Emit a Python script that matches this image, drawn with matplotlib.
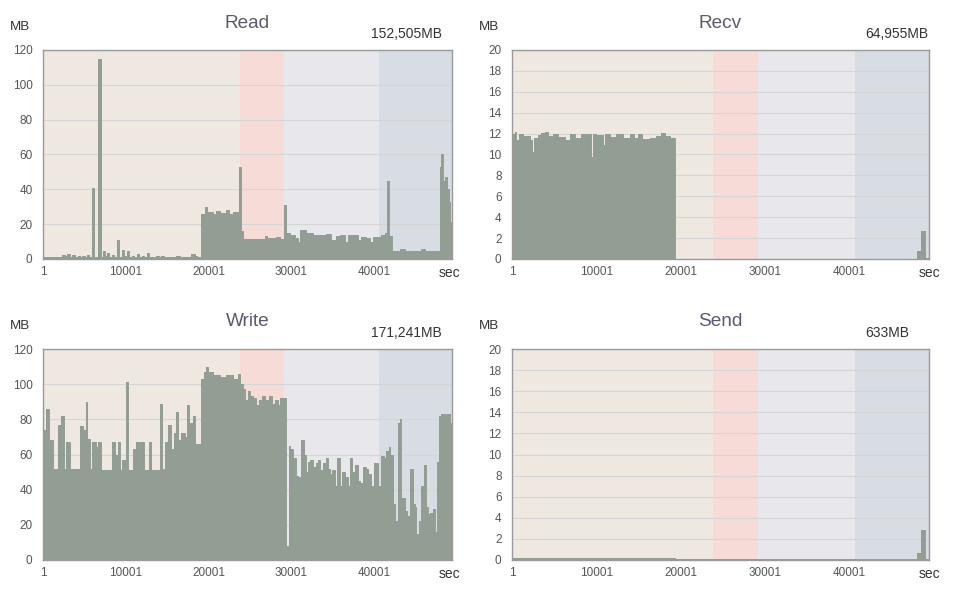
import matplotlib
matplotlib.use("Agg")
import matplotlib.pyplot as plt

plt.rcParams['font.family'] = ['Liberation Sans', 'DejaVu Sans']

# ---------------- data ----------------
XMAX = 49400
x_ticks = [1, 10001, 20001, 30001, 40001]
x_tick_labels = ['1', '10001', '20001', '30001', '40001']
phase_edges = [1, 23800, 29100, 40600, XMAX]
phase_colors = ['#eee8e1', '#f6dbd6', '#e7e7ec', '#d8dde4']

read_t = [0, 2336, 2618, 2940, 3222, 3544, 3826, 4228, 4430, 4752, 5034, 5316, 5557,
          5880, 6141, 6685, 6966, 7249, 7490, 7732, 8014, 8336, 8618, 8920, 9161,
          9544, 9786, 10108, 10349, 10712, 10994, 11356, 11598, 12000, 12242, 12564,
          12806, 13692, 14014, 14296, 14578, 16108, 16511, 17920, 18323, 18645,
          19048, 19571, 19853, 20538, 20940, 21343, 22149, 22471, 22954, 23598,
          23720, 23960, 24202, 26860, 27061, 28189, 28592, 29135, 29377, 29800,
          30404, 30807, 31008, 31813, 32619, 33424, 34230, 34834, 35438, 35840,
          36444, 36847, 37451, 38055, 38458, 39062, 39465, 39867, 40874, 41277,
          41520, 41760, 42122, 43089, 43693, 45706, 46109, 47921, 48082, 48324,
          48525, 48807, 49008, 49209]
read_v = [1.0, 2.5, 1.5, 3.0, 1.0, 2.5, 1.0, 1.8, 1.0, 2.0, 1.0, 2.5, 1.0,
          41, 1.0, 115, 1.0, 4.5, 2.0, 3.5, 1.0, 2.5, 1.0, 11, 1.0,
          5, 1.5, 4.5, 1.0, 2.0, 1.0, 3.0, 1.0, 2.0, 1.0, 3.5,
          1.0, 2.0, 1.0, 1.5, 1.0, 2.0, 1.0, 3.0, 1.5, 1.0,
          26, 30, 27, 26, 27.5, 26.5, 28, 26, 27, 17,
          53, 16, 11.5, 13, 12, 12.5, 11.5, 31, 15, 14,
          12, 10, 16.5, 15, 14, 13.5, 14.5, 11, 13, 13.5,
          10, 13.5, 14, 11, 12.5, 12, 10, 12.5, 14, 15,
          45, 13, 4.5, 5.5, 4.5, 5.5, 4.5, 53, 60, 45,
          47, 40, 33, 21]

write_t = [0, 322, 685, 886, 1208, 1812, 2215, 2497, 2819, 3302, 4430, 4832, 5155,
           5356, 5718, 5960, 6363, 6645, 6967, 8376, 8739, 9061, 9343, 9584, 9866,
           10000, 10250, 10873, 11276, 11678, 11880, 12202, 12766, 13088, 14175,
           14376, 14699, 15101, 15504, 15786, 16108, 16350, 16712, 17115, 17397,
           17638, 17799, 18122, 18323, 18524, 19047, 19410, 19732, 19934, 20538,
           21343, 22149, 22954, 23558, 23840, 24162, 24444, 24766, 25048, 25370,
           25773, 26095, 26417, 26780, 26981, 27303, 27706, 27988, 28390, 28672,
           29400, 29680, 29880, 30203, 30525, 30766, 31209, 31491, 31733, 32015,
           32297, 32619, 32941, 33223, 33505, 33827, 34149, 34471, 34713, 34954,
           35277, 35518, 35840, 36162, 36444, 36847, 37129, 37371, 37693, 38015,
           38257, 38659, 38981, 39263, 39666, 39988, 40471, 40874, 41156, 41478,
           41760, 41961, 42284, 42565, 42888, 43128, 43290, 43693, 43975, 44378,
           44700, 44901, 45102, 45424, 45706, 45988, 46230, 46511, 46794, 47116,
           47317, 47599, 47840, 48122, 49129]
write_v = [74, 86, 63, 68, 52, 77, 82, 52, 67, 52, 76, 74, 90,
           69, 52, 67, 64, 67, 51, 67, 60, 67, 51, 57, 51,
           101, 51, 63, 67, 51, 67, 51, 67, 51, 89,
           52, 67, 77, 63, 72, 84, 68, 72, 70, 88,
           75, 78, 82, 64, 66, 103, 107, 110, 107, 105,
           104, 105, 103, 106, 100, 97, 91, 96, 93, 92,
           88, 91, 93, 88, 91, 93, 89, 91, 88, 92,
           8, 65, 63, 58, 48, 47, 68, 60, 50, 56,
           57, 53, 55, 57, 51, 55, 58, 52, 49, 51,
           42, 58, 42, 50, 47, 42, 58, 50, 54, 45,
           44, 53, 52, 49, 42, 55, 42, 59, 58, 62,
           64, 60, 32, 22, 78, 80, 35, 28, 25, 52,
           32, 30, 15, 22, 42, 54, 30, 26, 27, 29,
           16, 56, 82, 83, 78]

recv_t = [0, 316, 513, 829, 1303, 2092, 2408, 2566, 3079, 3474, 3869, 4264, 4856,
          5448, 6238, 6830, 7422, 8212, 9396, 9554, 9988, 10778, 10975, 11568,
          12357, 13147, 13936, 14450, 14608, 14923, 15436, 16305, 17095, 17687,
          18082, 18674, 19345, 47968, 48481, 48955]
recv_v = [12, 12.2, 11.4, 12, 11.8, 11.4, 10.2, 11.6, 11.9, 12.1, 12.2, 11.8, 12,
          11.7, 11.4, 12, 11.6, 12, 9.8, 12, 11.9, 10.9, 12, 11.7,
          12, 11.6, 12, 10.5, 11.6, 12, 11.5, 11.6, 11.8, 12.1,
          11.8, 11.6, 0.03, 0.8, 2.7, 0.05]

send_t = [0, 19345, 47968, 48481, 48955]
send_v = [0.15, 0.05, 0.7, 2.8, 0.05]

panels = [
    # title, total, times, values, ymax, ystep, pixel box (x0, y0, x1, y1)
    ('Read', '152,505MB', read_t, read_v, 120, 20, (43, 50, 452, 259)),
    ('Recv', '64,955MB', recv_t, recv_v, 20, 2, (512, 50, 929, 259)),
    ('Write', '171,241MB', write_t, write_v, 120, 20, (43, 349, 452, 560)),
    ('Send', '633MB', send_t, send_v, 20, 2, (512, 349, 929, 560)),
]

# ---------------- drawing ----------------
W, H = 961, 591
fig = plt.figure(figsize=(W / 100, H / 100), dpi=100)
fig.patch.set_facecolor('white')

FILL = '#929e93'
TITLE_C = '#5a5a6e'
TEXT_C = '#333333'
TICK_C = '#555555'


def ftext(x, y, s, **kw):
    fig.text(x / W, 1 - y / H, s, **kw)


for title, total, t, v, ymax, ystep, (x0, y0, x1, y1) in panels:
    ax = fig.add_axes([x0 / W, 1 - y1 / H, (x1 - x0) / W, (y1 - y0) / H])
    ax.set_axisbelow(True)
    for i, c in enumerate(phase_colors):
        ax.axvspan(phase_edges[i], phase_edges[i + 1], color=c, lw=0, zorder=0)
    tt = list(t) + [XMAX]
    vv = list(v) + [v[-1]]
    ax.fill_between(tt, vv, 0, step='post', color=FILL, lw=0, zorder=2)
    ax.step(tt, vv, where='post', color=FILL, lw=0.7, zorder=2)
    ax.set_xlim(1, XMAX)
    ax.set_ylim(0, ymax)
    ax.set_yticks(range(0, ymax + 1, ystep))
    ax.set_xticks(x_ticks)
    ax.set_xticklabels(x_tick_labels)
    ax.grid(axis='y', color='#d6d6d6', lw=0.8)
    ax.grid(axis='x', visible=False)
    ax.tick_params(length=0, labelsize=8.5, labelcolor=TICK_C)
    ax.tick_params(axis='y', pad=7.5)
    ax.tick_params(axis='x', pad=5)
    for s in ax.spines.values():
        s.set_color('#9a9a9a')
        s.set_linewidth(1.0)
        s.set_zorder(3)

    cx = (x0 + x1) / 2
    ftext(cx, y0 - 27, title, ha='center', va='center', fontsize=13.7, color=TITLE_C)
    ftext(x0 - 23, y0 - 23, 'MB', ha='center', va='center', fontsize=9.6, color=TEXT_C)
    tx = 371 if x0 < 100 else 865
    ftext(tx, y0 - 16, total, ha='left', va='center', fontsize=10, color=TEXT_C)
    ftext(x1 - 3 if x0 < 100 else x1, y1 + 14, 'sec', ha='center', va='center',
          fontsize=10, color=TEXT_C)

fig.savefig('out.png', dpi=100)
